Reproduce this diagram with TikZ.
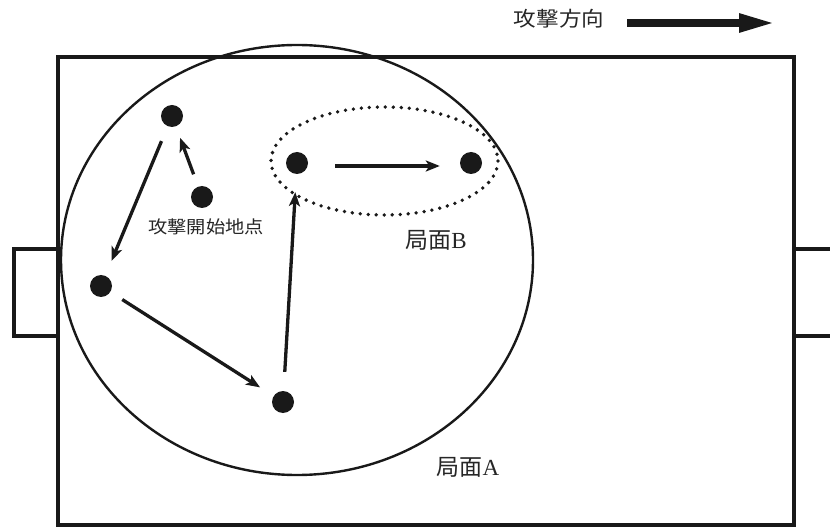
\documentclass[tikz,border=0pt]{standalone}
\usepackage{fontspec}
\setmainfont{Liberation Serif}
\newfontfamily\cjk{Noto Sans CJK JP}
\usetikzlibrary{arrows.meta}
\tikzset{
  player/.style={circle, fill=black!90, draw=none, minimum size=22pt, inner sep=0pt},
  pass/.style={line width=3.3pt, draw=black!90, -{Stealth[length=14pt, width=11pt, inset=3.5pt]}},
  fieldline/.style={line width=4pt, draw=black!90},
  zone/.style={line width=2.4pt, draw=black!90},
  dotzone/.style={line width=3.8pt, draw=black!90, line cap=round, dash pattern=on 0pt off 8pt},
  lbl/.style={text=black!85, inner sep=0pt}
}
\begin{document}
\begin{tikzpicture}[x=1pt,y=-1pt]
\useasboundingbox (0,0) rectangle (830,529);
% field
\draw[fieldline] (58,57) rectangle (794,525);
\draw[fieldline] (58,249) -- (14,249) -- (14,336) -- (58,336);
\draw[fieldline] (794,249) -- (840,249);
\draw[fieldline] (794,336) -- (840,336);
% zones
\draw[zone] (297,260) ellipse [x radius=236, y radius=215];
\draw[dotzone] (384.5,161) ellipse [x radius=113.5, y radius=54];
% players
\node[player] (p1) at (172,116) {};
\node[player] (p2) at (202,197) {};
\node[player] (p3) at (297,163) {};
\node[player] (p4) at (471,163) {};
\node[player] (p5) at (101,286) {};
\node[player] (p6) at (283,402) {};
% passes
\draw[pass, shorten <=13pt, shorten >=12pt] (p2) -- (p1);
\draw[pass, shorten <=16pt, shorten >=16pt] (p1) -- (p5);
\draw[pass, shorten <=14pt, shorten >=16pt] (p5) -- (p6);
\draw[pass, shorten <=19pt, shorten >=18pt] (p6) -- (p3);
\draw[pass, shorten <=27pt, shorten >=20pt] ([yshift=-3pt]p3.east) -- ([yshift=-3pt]p4.west);
% labels
\node[lbl, font=\cjk\fontsize{17.5}{17.5}\selectfont, xscale=1.1] (start) at (206,227) {攻撃開始地点};
\node[lbl, font=\fontsize{23}{23}\selectfont] (phB) at (436,240) {{\cjk 局面}B};
\node[lbl, font=\fontsize{23}{23}\selectfont] (phA) at (468,467) {{\cjk 局面}A};
\node[lbl, font=\cjk\fontsize{20.5}{20.5}\selectfont, xscale=1.1] (dir) at (559,19) {攻撃方向};
\coordinate (d1) at (627,23);
\coordinate (d2) at (776,23);
\draw[line width=8pt, draw=black!90, -{Triangle[length=37pt, width=17pt]}] (d1) -- (d2);
\end{tikzpicture}
\end{document}
